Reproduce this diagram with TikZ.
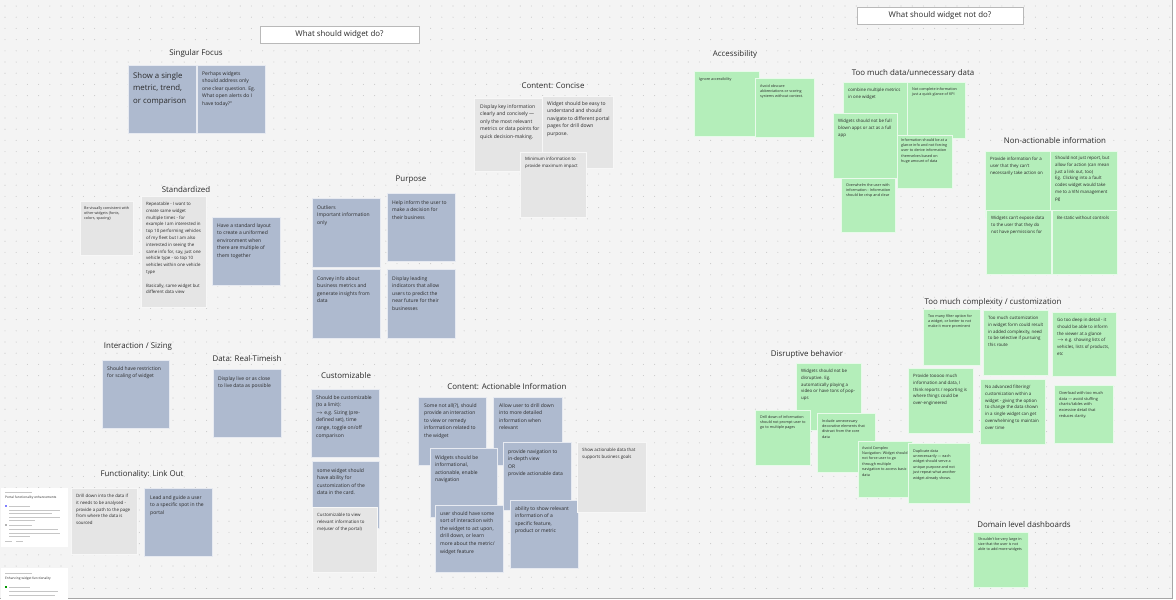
\documentclass[tikz,border=0pt]{standalone}
\usepackage{fontspec}
\setmainfont{Open Sans}
\usepackage{tikz}
\definecolor{notebl}{HTML}{AEBACF}
\definecolor{notegr}{HTML}{E5E5E5}
\definecolor{notegn}{HTML}{B4EEBA}
\definecolor{boardbg}{HTML}{F4F4F4}
\definecolor{dotgray}{HTML}{CBCBCB}
\definecolor{ink}{HTML}{2A2A2A}

\begin{document}
\begin{tikzpicture}[x=1pt,y=-1pt,
  head/.style={font=\fontsize{7.9}{8}\selectfont,text=ink,inner sep=0pt},
  txt/.style={anchor=north west,align=left,inner sep=0pt,text=ink,font=\fontsize{5.0}{7.6}\selectfont},
  sm/.style={font=\fontsize{4.4}{6.8}\selectfont},
  tn/.style={font=\fontsize{3.7}{5.4}\selectfont},
  bl/.style={fill=notebl,draw=white!70!notebl,line width=0.4pt},
  gr/.style={fill=notegr,draw=white!70!notegr,line width=0.4pt},
  gn/.style={fill=notegn,draw=white!70!notegn,line width=0.4pt},
  card/.style={fill=white,draw=white},
  rule/.style={draw=gray!45,line width=0.6pt}]
  \useasboundingbox (0,0) rectangle (1176,600);
  \fill[boardbg] (0,0) rectangle (1172,598);
  \foreach \i in {0,...,104}
    \foreach \j in {0,...,52}
      \fill[dotgray] (5+11.2*\i,6+11.2*\j) circle (0.55pt);
  \draw[gray!70,line width=0.8pt] (1172,0) -- (1172,598) -- (0,598);

  \draw[fill=white,draw=gray!55,line width=0.6pt] (260,26) rectangle (419,43);
  \node[head] (do) at (339.5,34.5) {What should widget do?};
  \draw[fill=white,draw=gray!55,line width=0.6pt] (857,7) rectangle (1023,24);
  \node[head] (notdo) at (940,15.5) {What should widget not do?};

  \begin{scope}
    \node[head] (focus) at (196,53) {Singular Focus};
    \draw[bl] (128,65) rectangle (196,133);
    \node[txt,font=\fontsize{7.8}{12.6}\selectfont] (sf1) at (133,72)
      {Show a single\\metric, trend,\\or comparison};
    \draw[bl] (197,65) rectangle (265,133);
    \node[txt] (sf2) at (202,71)
      {Perhaps widgets\\should address only\\one clear question. Eg.\\What open alerts do I\\have today?''};
  \end{scope}

  \begin{scope}
    \node[head] (concise) at (553,86) {Content: Concise};
    \draw[gr] (474,98) rectangle (547,171);
    \node[txt] (cc1) at (480,104)
      {Display key information\\clearly and concisely ---\\only the most relevant\\metrics or data points for\\quick decision-making.};
    \draw[gr] (542,96) rectangle (613,168);
    \node[txt] (cc2) at (547,101)
      {Widget should be easy to\\understand and should\\navigate to different portal\\pages for drill down\\purpose.};
    \draw[gr] (520,152) rectangle (586,217);
    \node[txt,sm] (cc3) at (525,157)
      {Minimum information to\\provide maximum impact};
  \end{scope}

  \begin{scope}
    \node[head] (std) at (186,190) {Standardized};
    \draw[gr] (80,201) rectangle (133,255);
    \node[txt,tn] (st1) at (84,206)
      {Be visually consistent with\\other widgets (fonts,\\colors, spacing)};
    \draw[gr] (141,196) rectangle (206,307);
    \node[txt,sm] (st2) at (146,202)
      {Repeatable - I want to\\create same widget\\multiple times - for\\example I am interested in\\top 10 performing vehicles\\of my fleet but I am also\\interested in seeing the\\same info for, say, just one\\vehicle type - so top 10\\vehicles within one vehicle\\type\\[6.8pt]Basically, same widget but\\different data view};
    \draw[bl] (212,217) rectangle (280,285);
    \node[txt] (st3) at (217,223)
      {Have a standard layout\\to create a uniformed\\environment when\\there are multiple of\\them together};
  \end{scope}

  \begin{scope}
    \node[head] (purpose) at (411,180) {Purpose};
    \draw[bl] (312,198) rectangle (380,267);
    \node[txt] (pu1) at (317,205) {Outliers\\Important information\\only};
    \draw[bl] (387,193) rectangle (455,261);
    \node[txt] (pu2) at (392,200) {Help inform the user to\\make a decision for\\their business};
    \draw[bl] (312,269) rectangle (380,338);
    \node[txt] (pu3) at (317,276) {Convey info about\\business metrics and\\generate insights from\\data};
    \draw[bl] (387,269) rectangle (455,338);
    \node[txt] (pu4) at (392,276) {Display leading\\indicators that allow\\users to predict the\\near future for their\\businesses};
  \end{scope}

  \begin{scope}
    \node[head] (sizing) at (138,347) {Interaction / Sizing};
    \draw[bl] (102,360) rectangle (169,428);
    \node[txt] (is1) at (107,366) {Should have restriction\\for scaling of widget};
    \node[head] (realtime) at (247,359) {Data: Real-Timeish};
    \draw[bl] (213,369) rectangle (281,437);
    \node[txt] (rt1) at (218,376) {Display live or as close\\to live data as possible};
  \end{scope}

  \begin{scope}
    \node[head] (linkout) at (142,474) {Functionality: Link Out};
    \draw[gr] (71,488) rectangle (137,554);
    \node[txt,sm] (lo1) at (76,494)
      {Drill down into the data if\\it needs to be analysed -\\provide a path to the page\\from where the data is\\sourced};
    \draw[bl] (144,488) rectangle (212,556);
    \node[txt] (lo2) at (150,495) {Lead and guide a user\\to a specific spot in the\\portal};
    \draw[card] (1,488) rectangle (67,546);
    \draw[rule,line width=0.4pt] (5,492) -- (32,492);
    \node[txt,font=\fontsize{3.2}{4}\selectfont] (card1) at (5,496) {Portal functionality enhancements};
    \fill[blue!50] (5,505) rectangle (7,507);
    \draw[rule] (9,506) -- (30,506);
    \draw[rule,line width=0.4pt] (9,510) -- (60,510);
    \draw[rule,line width=0.4pt] (9,513) -- (52,513);
    \draw[rule,line width=0.4pt] (9,517) -- (60,517);
    \draw[rule,line width=0.4pt] (9,520) -- (35,520);
    \fill[gray!60] (5,524) rectangle (7,526);
    \draw[rule] (9,525) -- (32,525);
    \draw[rule,line width=0.4pt] (9,529) -- (58,529);
    \draw[rule,line width=0.4pt] (9,533) -- (60,533);
    \draw[rule,line width=0.4pt] (9,536) -- (30,536);
    \draw[rule,line width=0.4pt] (5,541) -- (12,541) (16,541) -- (23,541);
    \draw[card] (1,568) rectangle (67,600);
    \draw[rule,line width=0.4pt] (5,573) -- (32,573);
    \node[txt,font=\fontsize{3.2}{4}\selectfont] (card2) at (5,577) {Enhancing widget functionality};
    \fill[green!60!black] (5,586) rectangle (7,588);
    \draw[rule] (9,587) -- (30,587);
    \draw[rule,line width=0.4pt] (9,591) -- (58,591);
    \draw[rule,line width=0.4pt] (9,595) -- (55,595);
  \end{scope}

  \begin{scope}
    \node[head] (custom) at (346,376) {Customizable};
    \draw[bl] (311,389) rectangle (379,457);
    \node[txt] (cu1) at (316,395)
      {Should be customizable\\(to a limit):\\$\to$ e.g. Sizing (pre-\\defined set), time\\range, toggle on/off\\comparison};
    \draw[bl] (312,461) rectangle (379,528);
    \node[txt] (cu2) at (317,468)
      {some widget should\\have ability for\\customization of the\\data in the card.};
    \draw[gr] (312,507) rectangle (377,572);
    \node[txt,sm] (cu3) at (317,513)
      {Customizable to view\\relevant information to\\me(user of the portal)};
  \end{scope}

  \begin{scope}
    \node[head] (action) at (507,387) {Content: Actionable Information};
    \draw[bl] (418,397) rectangle (486,465);
    \node[txt] (ai1) at (424,403)
      {Some not all(?), should\\provide an interaction\\to view or remedy\\information related to\\the widget};
    \draw[bl] (493,397) rectangle (562,465);
    \node[txt] (ai2) at (499,403)
      {Allow user to drill down\\into more detailed\\information when\\relevant};
    \draw[bl] (430,448) rectangle (497,517);
    \node[txt] (ai3) at (435,455)
      {Widgets should be\\informational,\\actionable, enable\\navigation};
    \draw[bl] (503,442) rectangle (571,510);
    \node[txt] (ai4) at (508,449)
      {provide navigation to\\in-depth view\\OR\\provide actionable data};
    \draw[bl] (435,505) rectangle (503,572);
    \node[txt] (ai5) at (440,511)
      {user should have some\\sort of interaction with\\the widget to act upon,\\drill down, or learn\\more about the metric/\\widget feature};
    \draw[bl] (510,500) rectangle (578,568);
    \node[txt] (ai6) at (515,506)
      {ability to show relevant\\information of a\\specific feature,\\product or metric};
    \draw[gr] (577,442) rectangle (646,512);
    \node[txt,sm] (ai7) at (582,448)
      {Show actionable data that\\supports business goals};
  \end{scope}

  \begin{scope}
    \node[head] (access) at (735,54) {Accessibility};
    \draw[gn] (694,71) rectangle (759,136);
    \node[txt,tn] (ac1) at (699,77) {Ignore accessibility};
    \draw[gn] (755,78) rectangle (814,137);
    \node[txt,tn] (ac2) at (760,84)
      {Avoid obscure\\abbreviations or scoring\\systems without context.};
  \end{scope}

  \begin{scope}
    \node[head] (toomuch) at (913,73) {Too much data/unnecessary data};
    \draw[gn] (843,82) rectangle (910,150);
    \node[txt,sm] (td1) at (848,88) {combine multiple metrics\\in one widget};
    \draw[gn] (907,82) rectangle (965,138);
    \node[txt,tn] (td2) at (912,87) {Not complete information\\just a quick glance of KPI};
    \draw[gn] (833,113) rectangle (897,178);
    \node[txt,sm] (td3) at (838,119)
      {Widgets should not be full\\blown apps or act as a full\\app};
    \draw[gn] (897,135) rectangle (952,188);
    \node[txt,tn] (td4) at (901,138)
      {Information should be at a\\glance info and not forcing\\user to derive information\\themselves based on\\huge amount of data};
    \draw[gn] (841,178) rectangle (895,232);
    \node[txt,tn] (td5) at (846,183)
      {Overwhelm the user with\\information - Information\\should be crisp and clear};
  \end{scope}

  \begin{scope}
    \node[head] (nonact) at (1055,141) {Non-actionable information};
    \draw[gn] (985,151) rectangle (1052,217);
    \node[txt,sm] (na1) at (990,157)
      {Provide information for a\\user that they can't\\necessarily take action on};
    \draw[gn] (1050,151) rectangle (1117,212);
    \node[txt,sm] (na2) at (1055,156)
      {Should not just report, but\\allow for action (can mean\\just a link out, too)\\Eg. Clicking into a fault\\codes widget would take\\me to a VIN management\\pg};
    \draw[gn] (986,210) rectangle (1051,274);
    \node[txt,sm] (na3) at (991,216)
      {Widgets can't expose data\\to the user that they do\\not have permissions for};
    \draw[gn] (1052,210) rectangle (1117,274);
    \node[txt,sm] (na4) at (1057,216) {Be static without controls};
  \end{scope}

  \begin{scope}
    \node[head] (complex) at (993,302) {Too much complexity / customization};
    \draw[gn] (923,309) rectangle (980,365);
    \node[txt,tn] (cx1) at (928,314)
      {Too many filter option for\\a widget, or better to not\\make it more prominent};
    \draw[gn] (983,310) rectangle (1048,375);
    \node[txt,sm] (cx2) at (988,316)
      {Too much customization\\in widget form could result\\in added complexity, need\\to be selective if pursuing\\this route};
    \draw[gn] (1052,312) rectangle (1116,376);
    \node[txt,sm] (cx3) at (1057,318)
      {Go too deep in detail - it\\should be able to inform\\the viewer at a glance\\$\to$ e.g. showing lists of\\vehicles, lists of products,\\etc};
    \draw[gn] (908,368) rectangle (973,433);
    \node[txt,sm] (cx4) at (913,374)
      {Provide tooooo much\\information and data, I\\think reports / reporting is\\where things could be\\over-engineered};
    \draw[gn] (980,379) rectangle (1045,444);
    \node[txt,sm] (cx5) at (985,385)
      {No advanced filtering/\\customization within a\\widget - giving the option\\to change the data shown\\in a single widget can get\\overwhelming to maintain\\over time};
    \draw[gn] (1054,385) rectangle (1113,443);
    \node[txt,font=\fontsize{3.9}{5.9}\selectfont] (cx6) at (1059,391)
      {Overload with too much\\data --- avoid stuffing\\charts/tables with\\excessive detail that\\reduces clarity.};
  \end{scope}

  \begin{scope}
    \node[head] (disrupt) at (807,354) {Disruptive behavior};
    \draw[gn] (796,363) rectangle (861,430);
    \node[txt,sm] (db1) at (801,369)
      {Widgets should not be\\disruptive. Eg.\\automatically playing a\\video or have tons of pop-\\ups};
    \draw[gn] (755,410) rectangle (810,465);
    \node[txt,tn] (db2) at (760,415)
      {Drill down of information\\should not prompt user to\\go to multiple pages};
    \draw[gn] (817,413) rectangle (875,472);
    \node[txt,tn] (db3) at (822,419)
      {Include unnecessary\\decorative elements that\\distract from the core\\data};
    \draw[gn] (858,441) rectangle (912,497);
    \node[txt,tn] (db4) at (862,446)
      {Avoid Complex\\Navigation: Widget should\\not force user to go\\through multiple\\navigation to access basic\\data};
    \draw[gn] (908,443) rectangle (970,503);
    \node[txt,tn] (db5) at (913,449)
      {Duplicate data\\unnecessarily --- each\\widget should serve a\\unique purpose and not\\just repeat what another\\widget already shows.};
  \end{scope}

  \begin{scope}
    \node[head] (domain) at (1024,525) {Domain level dashboards};
    \draw[gn] (973,532) rectangle (1028,587);
    \node[txt,tn] (dd1) at (978,537)
      {Shouldn't be very large in\\size that the user is not\\able to add more widgets};
  \end{scope}
\end{tikzpicture}
\end{document}
